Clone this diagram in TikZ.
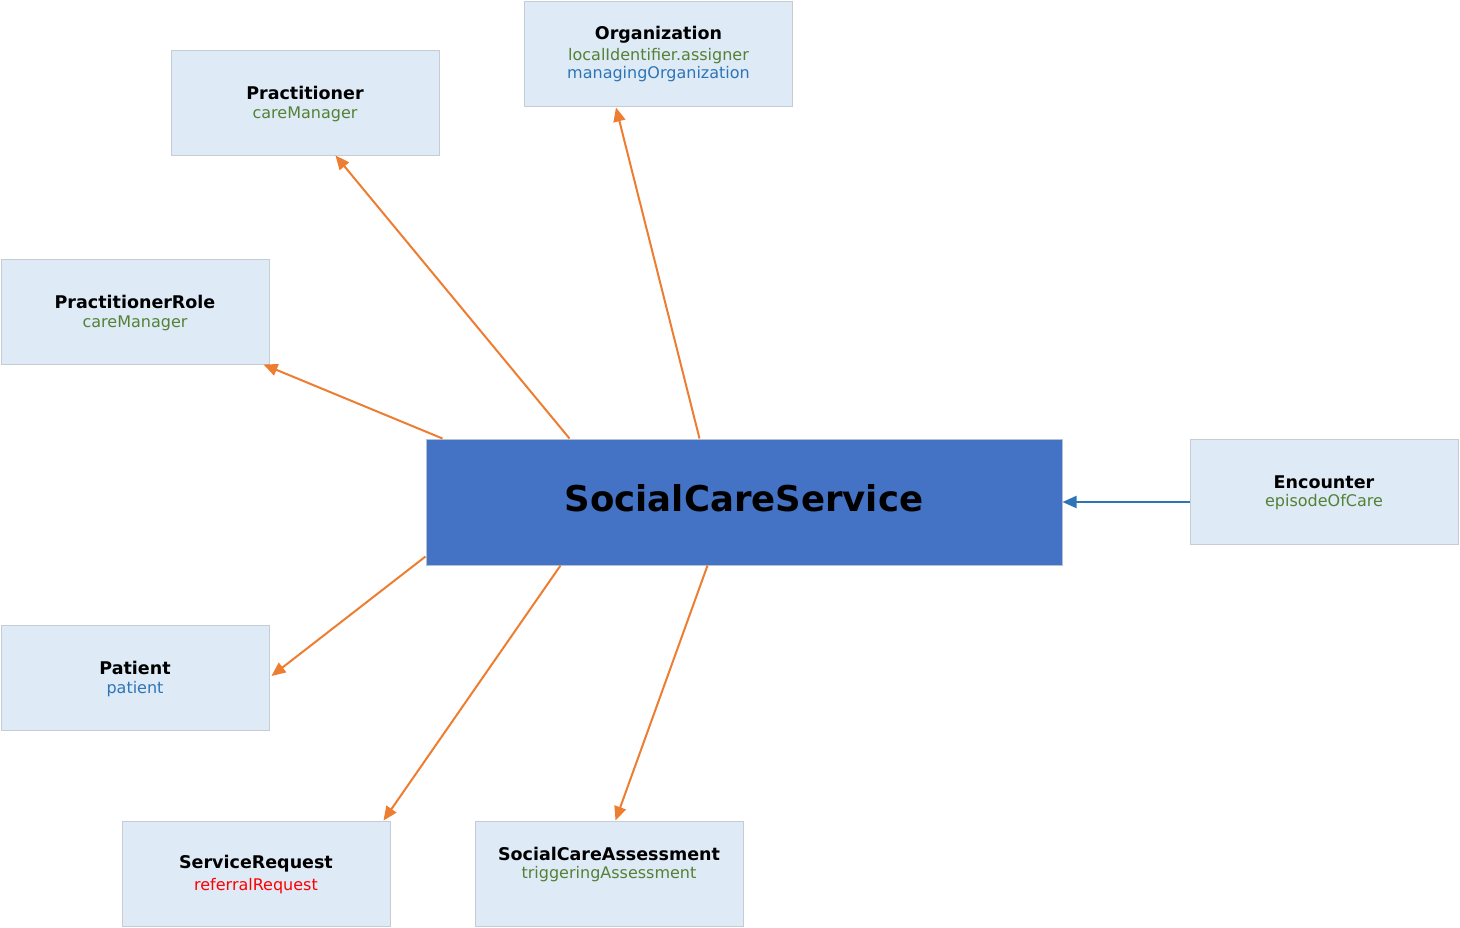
\documentclass[tikz,border=0pt]{standalone}
\usepackage{fontspec}
\setmainfont{DejaVu Sans}
\usetikzlibrary{arrows.meta,calc}
\definecolor{boxfill}{HTML}{DEEAF6}
\definecolor{boxline}{HTML}{C5CCD4}
\definecolor{mainfill}{HTML}{4472C4}
\definecolor{mainline}{HTML}{B4C0D4}
\definecolor{arrorange}{HTML}{ED7D31}
\definecolor{arrblue}{HTML}{2E75B6}
\definecolor{txtgreen}{HTML}{538135}
\definecolor{txtblue}{HTML}{2E75B6}
\definecolor{txtred}{HTML}{FF0000}
\tikzset{
  box/.style={draw=boxline, fill=boxfill, line width=1pt, inner sep=0pt,
    minimum width=268pt, minimum height=105pt},
  mainbox/.style={draw=mainline, fill=mainfill, line width=1pt, inner sep=0pt,
    minimum width=636pt, minimum height=126pt},
  ttl/.style={anchor=base, inner sep=0pt, font=\fontsize{17.5}{20}\selectfont\bfseries},
  sub/.style={anchor=base, inner sep=0pt, font=\fontsize{16}{18}\selectfont},
  orarrow/.style={draw=arrorange, line width=2pt, -{Triangle[length=14pt,width=12pt]}},
  blarrow/.style={draw=arrblue, line width=2pt, -{Triangle[length=14pt,width=12pt]}},
}
\begin{document}
\begin{tikzpicture}[x=1pt,y=-1pt]
\useasboundingbox (0,0) rectangle (1460,927);
% boxes
\node[box] (org) at (658.5,53.5) {};
\node[box] (prac) at (305,102.5) {};
\node[box] (pr) at (135,311.5) {};
\node[mainbox] (scs) at (744,502) {};
\node[box] (enc) at (1324,491.5) {};
\node[box] (pat) at (135,677.5) {};
\node[box] (sr) at (256,873.5) {};
\node[box] (sca) at (609,873.5) {};
% texts
\node[ttl] (orgT) at (658.5,39.5) {Organization};
\node[sub, text=txtgreen] (orgS1) at (658.5,60) {localIdentifier.assigner};
\node[sub, text=txtblue] (orgS2) at (658.5,78.5) {managingOrganization};
\node[ttl] (pracT) at (305,99) {Practitioner};
\node[sub, text=txtgreen] (pracS) at (305,118.3) {careManager};
\node[ttl] (prT) at (135,308) {PractitionerRole};
\node[sub, text=txtgreen] (prS) at (135,327.3) {careManager};
\node[anchor=base, inner sep=0pt, font=\fontsize{35.5}{40}\selectfont\bfseries] (scsT) at (744,511.7) {SocialCareService};
\node[ttl] (encT) at (1324,488) {Encounter};
\node[sub, text=txtgreen] (encS) at (1324,506.5) {episodeOfCare};
\node[ttl] (patT) at (135,674) {Patient};
\node[sub, text=txtblue] (patS) at (135,693.3) {patient};
\node[ttl] (srT) at (256,868.3) {ServiceRequest};
\node[sub, text=txtred] (srS) at (256,890) {referralRequest};
\node[ttl] (scaT) at (609,860) {SocialCareAssessment};
\node[sub, text=txtgreen] (scaS) at (609,878.7) {triggeringAssessment};
% connectors
\draw[orarrow] ([xshift=144pt]scs.north west) -- ([xshift=165pt]prac.south west);
\draw[orarrow] ([xshift=274pt]scs.north west) -- ([xshift=92pt,yshift=-1pt]org.south west);
\draw[orarrow] ([xshift=17pt]scs.north west) -- ([xshift=-6pt]pr.south east);
\draw[orarrow] ([yshift=9pt]scs.south west) -- ([xshift=2pt,yshift=1.5pt]pat.east);
\draw[orarrow] ([xshift=135pt]scs.south west) -- ([xshift=-7pt]sr.north east);
\draw[orarrow] ([xshift=282pt]scs.south west) -- ([xshift=141pt]sca.north west);
\draw[blarrow] ([yshift=-10.5pt]enc.west) -- (scs.east);
\end{tikzpicture}
\end{document}
